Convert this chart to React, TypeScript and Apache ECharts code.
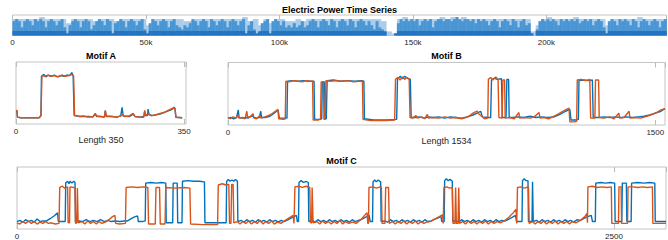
import React, { useEffect, useRef } from "react";
import * as echarts from "echarts";

const BLUE = "#0072BD";
const ORANGE = "#D95319";
const FONT = "Liberation Sans";

// ---------- Electric power strip (heights on a 0..10 scale) ----------
const stripMaxK = 245; // thousands of samples
// light upper envelope, one value per 2k samples
const stripHi = [
  8, 8, 8, 8, 8, 9, 8, 8, 8, 8,
  6, 8, 8, 8, 8, 7, 8, 8, 8, 7,
  8, 8, 8, 8, 8, 5, 8, 8, 8, 8,
  8, 8, 7, 7, 8, 8, 8, 8, 8, 8,
  8, 8, 8, 9, 7, 8, 5, 8, 6, 8,
  8, 7, 7, 8, 7, 8, 8, 8, 8, 8,
  8, 8, 8, 8, 8, 8, 8, 8, 8, 7,
  2, 1, 8, 9, 8, 8, 8, 8, 8, 8,
  9, 8, 9, 8, 9, 8, 8, 8, 8, 8,
  8, 8, 8, 8, 8, 8, 8, 2, 5, 8,
  9, 8, 8, 8, 8, 9, 8, 8, 8, 8,
  8, 5, 8, 8, 8, 8, 8, 9, 8, 8,
  8, 8, 8,
];
// dense core, one value per 1k samples
const stripMid = [
  7, 8, 7, 4, 7, 8, 7, 5, 8, 7,
  8, 7, 4, 7, 8, 7, 5, 7, 8, 4,
  1, 5, 7, 8, 7, 4, 7, 8, 7, 3,
  5, 7, 8, 7, 5, 8, 7, 1, 6, 7,
  8, 7, 4, 7, 8, 7, 5, 7, 8, 3,
  1, 6, 8, 7, 5, 7, 8, 7, 4, 7,
  8, 5, 4, 3, 5, 4, 6, 8, 7, 5,
  7, 8, 7, 4, 8, 7, 5, 7, 8, 7,
  4, 7, 8, 7, 5, 7, 8, 1, 5, 7,
  3, 1, 2, 6, 7, 8, 1, 7, 8, 7,
  5, 7, 4, 5, 4, 6, 4, 5, 7, 4,
  5, 7, 8, 7, 4, 7, 8, 7, 5, 8,
  7, 4, 7, 8, 7, 5, 8, 7, 4, 7,
  8, 7, 5, 7, 5, 3, 7, 4, 3, 2,
  0, 0, 0, 1, 6, 8, 7, 8, 7, 8,
  7, 8, 5, 7, 8, 7, 8, 4, 7, 8,
  8, 7, 8, 8, 7, 8, 9, 8, 7, 8,
  8, 7, 8, 6, 8, 7, 8, 7, 5, 7,
  8, 7, 4, 7, 8, 7, 5, 8, 7, 4,
  7, 8, 5, 6, 1, 0, 3, 7, 8, 7,
  8, 7, 8, 7, 5, 8, 7, 8, 7, 8,
  7, 8, 6, 7, 8, 7, 8, 5, 7, 8,
  7, 4, 1, 7, 8, 7, 5, 8, 7, 8,
  7, 5, 8, 7, 4, 7, 8, 7, 5, 7,
  8, 7, 4, 7, 8,
];

// ---------- Motif A (length 350) ----------
const motifALen = 354;
const motifABlue = [
  [0, 0.21], [2, 0.21], [3, 0.11], [10, 0.1], [30, 0.1], [48, 0.1], [52, 0.14], [53, 0.77], [58, 0.8], [62, 0.76],
  [68, 0.79], [74, 0.77], [80, 0.79], [86, 0.76], [92, 0.78], [100, 0.77], [106, 0.79], [112, 0.78], [116, 0.83],
  [119, 0.78], [121, 0.14], [126, 0.13], [134, 0.12], [142, 0.12], [152, 0.12], [160, 0.11], [165, 0.16], [168, 0.12],
  [178, 0.12], [184, 0.11], [186, 0.21], [188, 0.12], [200, 0.12], [210, 0.11], [218, 0.13], [221, 0.27], [223, 0.13],
  [236, 0.12], [244, 0.16], [248, 0.12], [258, 0.11], [266, 0.12], [268, 0.2], [270, 0.13], [274, 0.14], [275, 0.24],
  [277, 0.15], [284, 0.14], [292, 0.15], [300, 0.16], [310, 0.19], [320, 0.22], [326, 0.24], [329, 0.27], [331, 0.25],
  [333, 0.11], [346, 0.1],
];
const motifAOrange = [
  [0, 0.22], [2, 0.22], [3, 0.11], [10, 0.1], [30, 0.1], [48, 0.1], [52, 0.13], [54, 0.78], [60, 0.77], [66, 0.79],
  [72, 0.77], [80, 0.78], [88, 0.76], [95, 0.79], [102, 0.77], [110, 0.78], [116, 0.8], [120, 0.77], [122, 0.13],
  [126, 0.14], [132, 0.12], [140, 0.13], [150, 0.11], [160, 0.12], [165, 0.17], [168, 0.13], [176, 0.12], [184, 0.11],
  [186, 0.22], [188, 0.13], [200, 0.12], [210, 0.11], [218, 0.13], [222, 0.16], [226, 0.12], [236, 0.13], [244, 0.17],
  [248, 0.12], [258, 0.11], [266, 0.11], [268, 0.22], [270, 0.14], [276, 0.17], [282, 0.13], [292, 0.15], [300, 0.17],
  [310, 0.19], [320, 0.23], [328, 0.26], [331, 0.25], [333, 0.11], [346, 0.1],
];

// ---------- Motif B (length 1534) ----------
const motifBLen = 1534;
const motifBBlue = [
  [0, 0.11], [10, 0.12], [20, 0.1], [30, 0.12], [36, 0.24], [39, 0.12], [50, 0.11], [62, 0.12], [70, 0.11], [85, 0.15],
  [92, 0.12], [100, 0.11], [110, 0.12], [115, 0.22], [118, 0.12], [130, 0.12], [147, 0.14], [160, 0.18], [170, 0.22],
  [176, 0.24], [180, 0.11], [200, 0.11], [207, 0.11], [209, 0.7], [225, 0.71], [245, 0.7], [265, 0.71], [285, 0.7],
  [302, 0.7], [304, 0.09], [322, 0.09], [329, 0.1], [331, 0.69], [339, 0.69], [341, 0.1], [345, 0.1], [348, 0.71],
  [370, 0.72], [395, 0.7], [420, 0.71], [445, 0.7], [470, 0.71], [477, 0.7], [479, 0.1], [510, 0.08], [560, 0.08],
  [592, 0.09], [595, 0.74], [605, 0.78], [612, 0.74], [620, 0.78], [630, 0.75], [640, 0.73], [643, 0.12], [655, 0.12],
  [670, 0.13], [690, 0.11], [705, 0.13], [720, 0.12], [740, 0.13], [760, 0.11], [780, 0.13], [800, 0.12], [820, 0.11],
  [840, 0.13], [860, 0.16], [875, 0.19], [887, 0.22], [893, 0.13], [915, 0.12], [922, 0.12], [925, 0.72], [935, 0.75],
  [945, 0.73], [960, 0.74], [963, 0.12], [976, 0.12], [979, 0.73], [985, 0.73], [987, 0.12], [1000, 0.12], [1020, 0.13],
  [1040, 0.12], [1060, 0.14], [1080, 0.12], [1100, 0.13], [1120, 0.12], [1145, 0.13], [1165, 0.17], [1185, 0.22],
  [1200, 0.25], [1204, 0.08], [1220, 0.08], [1230, 0.09], [1232, 0.71], [1250, 0.72], [1265, 0.71], [1279, 0.72],
  [1282, 0.12], [1300, 0.12], [1320, 0.13], [1340, 0.12], [1360, 0.13], [1380, 0.12], [1400, 0.13], [1420, 0.12],
  [1440, 0.13], [1460, 0.14], [1480, 0.16], [1500, 0.19], [1520, 0.22], [1534, 0.26],
];
const motifBOrange = [
  [0, 0.12], [8, 0.1], [18, 0.13], [28, 0.11], [35, 0.16], [38, 0.11], [50, 0.12], [60, 0.1], [66, 0.22], [69, 0.12],
  [80, 0.14], [88, 0.18], [91, 0.11], [100, 0.1], [112, 0.15], [116, 0.11], [130, 0.13], [147, 0.16], [160, 0.2],
  [170, 0.23], [175, 0.25], [178, 0.1], [195, 0.09], [201, 0.1], [203, 0.7], [215, 0.69], [230, 0.71], [245, 0.7],
  [260, 0.69], [275, 0.71], [290, 0.7], [297, 0.7], [299, 0.08], [318, 0.08], [325, 0.1], [327, 0.69], [335, 0.69],
  [337, 0.09], [341, 0.09], [344, 0.71], [360, 0.7], [380, 0.71], [400, 0.7], [420, 0.71], [440, 0.69], [460, 0.7],
  [472, 0.7], [474, 0.09], [500, 0.07], [550, 0.07], [585, 0.08], [588, 0.73], [596, 0.76], [604, 0.72], [612, 0.77],
  [620, 0.73], [628, 0.76], [636, 0.73], [639, 0.12], [648, 0.11], [660, 0.15], [664, 0.11], [680, 0.13], [690, 0.1],
  [700, 0.17], [703, 0.11], [720, 0.12], [740, 0.11], [760, 0.13], [780, 0.11], [800, 0.12], [820, 0.1], [835, 0.12],
  [846, 0.14], [860, 0.19], [874, 0.22], [880, 0.18], [895, 0.12], [900, 0.1], [912, 0.11], [914, 0.73], [922, 0.76],
  [930, 0.72], [940, 0.77], [948, 0.73], [951, 0.12], [962, 0.11], [965, 0.72], [971, 0.72], [973, 0.11], [990, 0.12],
  [1005, 0.1], [1021, 0.2], [1024, 0.11], [1040, 0.12], [1060, 0.11], [1075, 0.13], [1092, 0.2], [1095, 0.11],
  [1110, 0.12], [1125, 0.1], [1144, 0.14], [1160, 0.18], [1180, 0.23], [1197, 0.27], [1200, 0.05], [1215, 0.05],
  [1224, 0.06], [1226, 0.72], [1240, 0.73], [1255, 0.71], [1270, 0.73], [1273, 0.11], [1288, 0.11], [1290, 0.72],
  [1301, 0.72], [1303, 0.12], [1320, 0.11], [1340, 0.13], [1355, 0.1], [1372, 0.19], [1375, 0.11], [1390, 0.12],
  [1408, 0.22], [1411, 0.11], [1430, 0.12], [1449, 0.11], [1470, 0.14], [1490, 0.17], [1505, 0.2], [1519, 0.24],
  [1534, 0.26],
];

// ---------- Motif C ----------
const motifCLen = 2718;
const motifCBlue = [
  [0, 0.12], [12, 0.14], [24, 0.11], [36, 0.15], [48, 0.12], [60, 0.14], [72, 0.11], [84, 0.16], [96, 0.12], [108, 0.13],
  [124, 0.13], [140, 0.17], [155, 0.21], [170, 0.26], [173, 0.12], [185, 0.12], [202, 0.12], [204, 0.74], [212, 0.77],
  [218, 0.73], [222, 0.77], [230, 0.74], [238, 0.77], [243, 0.75], [245, 0.12], [260, 0.13], [275, 0.12], [290, 0.15],
  [305, 0.12], [320, 0.14], [335, 0.12], [350, 0.15], [365, 0.12], [380, 0.14], [395, 0.12], [410, 0.13], [430, 0.12],
  [450, 0.13], [463, 0.13], [480, 0.17], [495, 0.2], [505, 0.21], [508, 0.12], [525, 0.12], [537, 0.13], [539, 0.74],
  [560, 0.75], [585, 0.74], [605, 0.75], [623, 0.74], [625, 0.1], [652, 0.1], [654, 0.74], [671, 0.74], [673, 0.1],
  [691, 0.1], [693, 0.77], [715, 0.78], [740, 0.77], [765, 0.77], [785, 0.76], [787, 0.1], [820, 0.1], [876, 0.1],
  [878, 0.77], [885, 0.8], [892, 0.77], [900, 0.79], [908, 0.77], [915, 0.8], [923, 0.77], [925, 0.12], [938, 0.14],
  [950, 0.11], [962, 0.15], [974, 0.12], [986, 0.14], [998, 0.11], [1010, 0.15], [1022, 0.12], [1034, 0.14],
  [1046, 0.11], [1058, 0.15], [1070, 0.12], [1082, 0.14], [1094, 0.11], [1106, 0.14], [1118, 0.12], [1130, 0.14],
  [1150, 0.18], [1170, 0.22], [1174, 0.12], [1179, 0.12], [1181, 0.75], [1190, 0.78], [1200, 0.75], [1210, 0.77],
  [1220, 0.75], [1222, 0.12], [1236, 0.14], [1248, 0.11], [1260, 0.15], [1272, 0.12], [1284, 0.14], [1296, 0.11],
  [1308, 0.15], [1320, 0.12], [1332, 0.14], [1344, 0.11], [1356, 0.15], [1368, 0.12], [1380, 0.14], [1392, 0.11],
  [1404, 0.15], [1416, 0.12], [1430, 0.14], [1445, 0.16], [1460, 0.19], [1475, 0.22], [1479, 0.12], [1489, 0.12],
  [1491, 0.76], [1498, 0.79], [1505, 0.76], [1512, 0.79], [1523, 0.76], [1525, 0.12], [1540, 0.13], [1552, 0.11],
  [1564, 0.15], [1576, 0.12], [1588, 0.14], [1600, 0.11], [1612, 0.15], [1624, 0.12], [1636, 0.14], [1648, 0.11],
  [1660, 0.15], [1672, 0.12], [1684, 0.14], [1696, 0.11], [1708, 0.15], [1720, 0.12], [1735, 0.13], [1750, 0.16],
  [1765, 0.18], [1775, 0.21], [1779, 0.12], [1789, 0.12], [1791, 0.78], [1798, 0.81], [1806, 0.78], [1814, 0.8],
  [1823, 0.77], [1825, 0.12], [1838, 0.14], [1850, 0.11], [1862, 0.15], [1874, 0.12], [1886, 0.14], [1898, 0.11],
  [1910, 0.15], [1922, 0.12], [1934, 0.14], [1946, 0.11], [1958, 0.15], [1970, 0.12], [1982, 0.14], [1994, 0.11],
  [2006, 0.15], [2018, 0.12], [2030, 0.14], [2045, 0.13], [2060, 0.16], [2075, 0.19], [2088, 0.22], [2092, 0.12],
  [2115, 0.12], [2117, 0.78], [2124, 0.81], [2132, 0.78], [2140, 0.78], [2142, 0.12], [2157, 0.12], [2159, 0.76],
  [2162, 0.12], [2175, 0.14], [2187, 0.11], [2199, 0.15], [2211, 0.12], [2223, 0.14], [2235, 0.11], [2247, 0.15],
  [2259, 0.12], [2271, 0.14], [2283, 0.11], [2295, 0.15], [2307, 0.12], [2319, 0.14], [2331, 0.11], [2345, 0.15],
  [2360, 0.14], [2375, 0.17], [2390, 0.2], [2405, 0.22], [2410, 0.12], [2422, 0.12], [2424, 0.74], [2445, 0.75],
  [2465, 0.74], [2485, 0.75], [2503, 0.74], [2505, 0.12], [2533, 0.12], [2535, 0.74], [2552, 0.74], [2554, 0.12],
  [2572, 0.12], [2574, 0.74], [2600, 0.75], [2625, 0.74], [2650, 0.75], [2671, 0.74], [2673, 0.12], [2718, 0.12],
];
const motifCOrange = [
  [0, 0.1], [12, 0.08], [24, 0.12], [36, 0.09], [48, 0.13], [60, 0.09], [72, 0.12], [84, 0.08], [96, 0.11], [108, 0.09],
  [120, 0.12], [132, 0.09], [144, 0.1], [160, 0.08], [176, 0.09], [179, 0.67], [190, 0.69], [200, 0.66], [212, 0.68],
  [214, 0.1], [220, 0.1], [222, 0.68], [236, 0.67], [243, 0.66], [245, 0.09], [250, 0.1], [253, 0.66], [256, 0.1],
  [272, 0.12], [284, 0.08], [296, 0.13], [308, 0.09], [320, 0.12], [332, 0.08], [344, 0.12], [356, 0.09], [370, 0.11],
  [385, 0.15], [400, 0.2], [410, 0.22], [413, 0.09], [430, 0.08], [454, 0.09], [457, 0.67], [480, 0.68], [505, 0.67],
  [530, 0.68], [548, 0.67], [551, 0.08], [579, 0.08], [582, 0.67], [597, 0.67], [600, 0.08], [620, 0.08], [623, 0.67],
  [660, 0.66], [700, 0.67], [724, 0.66], [727, 0.08], [780, 0.07], [840, 0.07], [843, 0.71], [860, 0.73], [875, 0.71],
  [887, 0.72], [890, 0.09], [896, 0.09], [899, 0.72], [905, 0.72], [908, 0.1], [922, 0.12], [934, 0.08], [946, 0.12],
  [958, 0.09], [970, 0.13], [982, 0.08], [994, 0.12], [1006, 0.09], [1018, 0.14], [1030, 0.08], [1042, 0.12],
  [1054, 0.09], [1066, 0.13], [1078, 0.08], [1090, 0.11], [1105, 0.09], [1120, 0.13], [1140, 0.18], [1157, 0.22],
  [1160, 0.09], [1162, 0.09], [1164, 0.68], [1180, 0.69], [1195, 0.67], [1210, 0.69], [1226, 0.67], [1229, 0.1],
  [1234, 0.1], [1236, 0.67], [1240, 0.1], [1256, 0.12], [1268, 0.08], [1280, 0.13], [1292, 0.09], [1304, 0.12],
  [1316, 0.08], [1328, 0.12], [1340, 0.09], [1352, 0.14], [1364, 0.08], [1376, 0.12], [1390, 0.09], [1405, 0.11],
  [1420, 0.09], [1440, 0.15], [1460, 0.24], [1466, 0.26], [1469, 0.09], [1472, 0.09], [1474, 0.67], [1490, 0.68],
  [1505, 0.66], [1520, 0.68], [1526, 0.67], [1529, 0.09], [1541, 0.09], [1544, 0.67], [1556, 0.67], [1559, 0.09],
  [1572, 0.12], [1584, 0.08], [1596, 0.12], [1608, 0.09], [1620, 0.13], [1632, 0.08], [1644, 0.12], [1656, 0.09],
  [1668, 0.13], [1680, 0.08], [1692, 0.12], [1704, 0.09], [1716, 0.11], [1730, 0.12], [1745, 0.15], [1765, 0.19],
  [1782, 0.23], [1785, 0.09], [1788, 0.67], [1800, 0.68], [1812, 0.66], [1823, 0.67], [1826, 0.09], [1834, 0.09],
  [1837, 0.67], [1840, 0.09], [1847, 0.09], [1850, 0.67], [1853, 0.09], [1866, 0.12], [1878, 0.08], [1890, 0.13],
  [1902, 0.09], [1914, 0.12], [1926, 0.08], [1938, 0.12], [1950, 0.09], [1962, 0.13], [1974, 0.08], [1986, 0.12],
  [1998, 0.09], [2010, 0.12], [2025, 0.1], [2040, 0.13], [2060, 0.19], [2078, 0.26], [2090, 0.32], [2093, 0.09],
  [2096, 0.67], [2110, 0.68], [2125, 0.66], [2142, 0.68], [2145, 0.09], [2158, 0.12], [2170, 0.08], [2182, 0.12],
  [2194, 0.09], [2206, 0.13], [2218, 0.08], [2230, 0.12], [2242, 0.09], [2254, 0.13], [2266, 0.08], [2278, 0.12],
  [2290, 0.09], [2302, 0.12], [2314, 0.08], [2326, 0.12], [2340, 0.1], [2360, 0.14], [2378, 0.2], [2387, 0.25],
  [2389, 0.1], [2391, 0.68], [2410, 0.69], [2430, 0.67], [2450, 0.68], [2470, 0.67], [2489, 0.68], [2491, 0.09],
  [2519, 0.09], [2521, 0.68], [2530, 0.68], [2532, 0.09], [2557, 0.09], [2559, 0.68], [2580, 0.68], [2600, 0.67],
  [2620, 0.68], [2640, 0.67], [2661, 0.68], [2663, 0.09], [2718, 0.09],
];

const GRIDS = [
  { left: 12.5, top: 15, width: 654, height: 20.5 },
  { left: 16, top: 62, width: 170, height: 62 },
  { left: 228, top: 62.5, width: 437, height: 62.5 },
  { left: 17, top: 167, width: 649, height: 62 },
];

export default function App() {
  const ref = useRef<HTMLDivElement>(null);
  useEffect(() => {
    document.body.style.margin = "0";
    const chart = echarts.init(ref.current!, undefined, { renderer: "svg" });

    const tickStyle = (len: number) => ({
      show: true,
      inside: true,
      length: len,
      lineStyle: { color: "#bcbcbc", width: 1 },
    });
    const labelStyle = {
      fontSize: 8,
      color: "#262626",
      fontFamily: FONT,
      margin: 3,
      showMaxLabel: false,
      showMinLabel: true,
    };

    const axisDefs = [
      { max: stripMaxK * 1000, interval: 50000, name: "", fmt: (v: number) => (v === 0 ? "0" : v / 1000 + "k") },
      { max: motifALen, interval: 350, name: "Length 350", fmt: (v: number) => String(v) },
      { max: motifBLen, interval: 1500, name: "Length 1534", fmt: (v: number) => String(v) },
      { max: motifCLen, interval: 2500, name: "", fmt: (v: number) => String(v) },
    ];

    const xAxis: any[] = [];
    axisDefs.forEach((d, i) => {
      xAxis.push({
        type: "value",
        gridIndex: i,
        min: 0,
        max: d.max,
        interval: d.interval,
        position: "bottom",
        axisLine: { show: false },
        axisTick: tickStyle(i === 0 ? 4 : 5),
        splitLine: { show: false },
        axisLabel: { ...labelStyle, formatter: d.fmt },
        name: d.name,
        nameLocation: "middle",
        nameGap: 11,
        nameTextStyle: { fontSize: 9, color: "#262626", fontFamily: FONT },
      });
      xAxis.push({
        type: "value",
        gridIndex: i,
        min: 0,
        max: d.max,
        interval: d.interval,
        position: "top",
        axisLine: { show: false },
        axisTick: tickStyle(i === 0 ? 4 : 5),
        splitLine: { show: false },
        axisLabel: { show: false },
      });
    });

    const yAxis = GRIDS.map((_, i) => ({
      type: "value",
      gridIndex: i,
      min: 0,
      max: i === 0 ? 10 : 1,
      show: false,
    }));

    const rectSeries = (data: number[][], color: string, name: string) => ({
      type: "custom",
      name,
      xAxisIndex: 0,
      yAxisIndex: 0,
      silent: true,
      encode: { x: [0, 1], y: 2 },
      data,
      renderItem: (_p: any, api: any) => {
        const p0 = api.coord([api.value(0), 0]);
        const p1 = api.coord([api.value(1), api.value(2)]);
        return {
          type: "rect",
          shape: { x: p0[0], y: p1[1], width: p1[0] - p0[0] + 0.35, height: p0[1] - p1[1] },
          style: { fill: color },
        };
      },
    });

    const hiData = stripHi.map((h, i) => [i * 2000, Math.min((i + 1) * 2000, stripMaxK * 1000), h]);
    const midData = stripMid.map((h, i) => [i * 1000, (i + 1) * 1000, h]);
    const baseData = stripMid.map((h, i) => [i * 1000, (i + 1) * 1000, Math.min(h, 2.2)]);

    const lineSeries = (data: number[][], color: string, gi: number, name: string) => ({
      type: "line",
      name,
      xAxisIndex: gi * 2,
      yAxisIndex: gi,
      data,
      symbol: "none",
      showSymbol: false,
      silent: true,
      lineStyle: { color, width: 1.4 },
    });

    const titles = [
      { text: "Electric Power Time Series", x: 339.5, y: 9.8 },
      { text: "Motif A", x: 101, y: 55.5 },
      { text: "Motif B", x: 446.5, y: 55.5 },
      { text: "Motif C", x: 341.5, y: 160.8 },
    ];

    chart.setOption({
      animation: false,
      backgroundColor: "#ffffff",
      grid: GRIDS.map((g) => ({
        ...g,
        show: true,
        borderColor: "#c4c4c4",
        borderWidth: 1,
        backgroundColor: "transparent",
        containLabel: false,
      })),
      xAxis,
      yAxis,
      graphic: titles.map((t) => ({
        type: "text",
        x: t.x,
        y: t.y,
        silent: true,
        style: {
          text: t.text,
          font: `bold 9px "${FONT}"`,
          fill: "#000000",
          align: "center",
          verticalAlign: "middle",
        },
      })),
      series: [
        rectSeries(hiData, "#a9cdeb", "envelope"),
        rectSeries(midData, "#4a96d5", "core"),
        rectSeries(baseData, "#2474c1", "base"),
        lineSeries(motifABlue, BLUE, 1, "A1"),
        lineSeries(motifAOrange, ORANGE, 1, "A2"),
        lineSeries(motifBBlue, BLUE, 2, "B1"),
        lineSeries(motifBOrange, ORANGE, 2, "B2"),
        lineSeries(motifCBlue, BLUE, 3, "C1"),
        lineSeries(motifCOrange, ORANGE, 3, "C2"),
      ],
    });
    return () => chart.dispose();
  }, []);
  return <div ref={ref} style={{ width: 668, height: 240, position: "absolute", left: 0, top: 0 }} />;
}
